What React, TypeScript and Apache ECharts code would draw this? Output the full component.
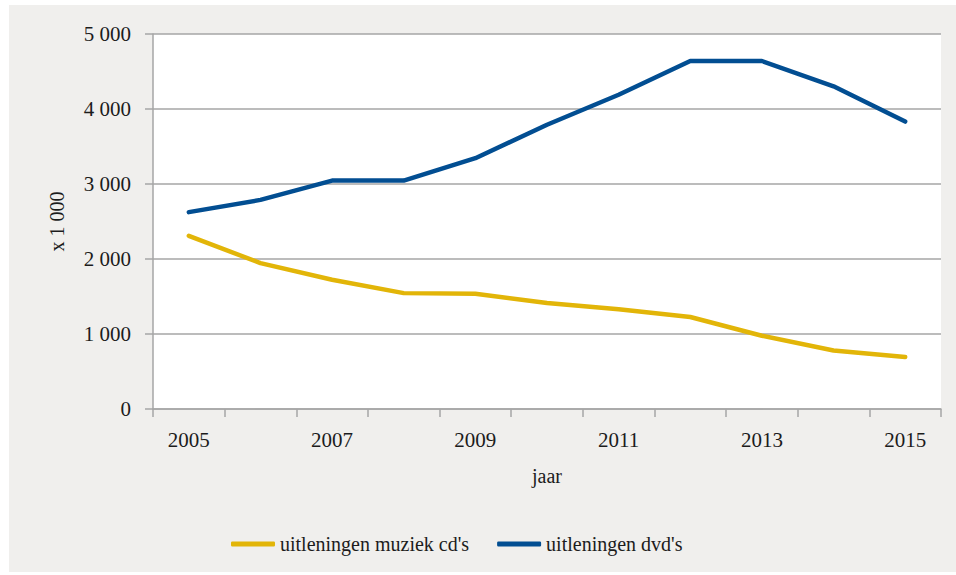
import React, { useEffect, useRef } from "react";
import * as echarts from "echarts";

const years = ["2005", "2006", "2007", "2008", "2009", "2010", "2011", "2012", "2013", "2014", "2015"];
const cdLoans = [2309, 1945, 1723, 1545, 1536, 1412, 1330, 1226, 977, 781, 693];
const dvdLoans = [2625, 2788, 3046, 3046, 3344, 3790, 4190, 4640, 4640, 4303, 3832];
const seriesNames = ["uitleningen muziek cd's", "uitleningen dvd's"];
const yTicks = { min: 0, max: 5000, interval: 1000 };

const FONT = "Liberation Serif";
const TEXT = "#1c1c1c";
const GRID_GRAY = "#a6a6a6";

function fmt(v: number): string {
  const s = String(Math.round(v));
  return s.replace(/\B(?=(\d{3})+(?!\d))/g, " ");
}

export default function App() {
  const ref = useRef<HTMLDivElement>(null);
  useEffect(() => {
    if (!ref.current) return;
    const chart = echarts.init(ref.current, undefined, { renderer: "svg" });
    chart.setOption({
      animation: false,
      backgroundColor: "#ffffff",
      graphic: [
        {
          type: "rect",
          z: -10,
          silent: true,
          shape: { x: 9, y: 5, width: 947, height: 567 },
          style: { fill: "#f0efed" },
        },
      ],
      grid: {
        left: 153,
        right: 15,
        top: 34,
        bottom: 166,
        show: true,
        backgroundColor: "#ffffff",
        borderWidth: 0,
      },
      legend: {
        data: seriesNames,
        left: 226,
        top: 529,
        icon: "roundRect",
        itemWidth: 44,
        itemHeight: 5,
        itemGap: 28,
        textStyle: { fontFamily: FONT, fontSize: 20, color: TEXT },
      },
      xAxis: {
        type: "category",
        data: years,
        boundaryGap: true,
        name: "jaar",
        nameLocation: "middle",
        nameGap: 57,
        nameTextStyle: { fontFamily: FONT, fontSize: 20, color: TEXT },
        axisLine: { show: true, lineStyle: { color: GRID_GRAY, width: 1.5 } },
        axisTick: { show: true, interval: 0, length: 8, lineStyle: { color: GRID_GRAY, width: 1.5 } },
        axisLabel: { interval: 1, margin: 20, fontFamily: FONT, fontSize: 21, color: TEXT },
        splitLine: { show: false },
      },
      yAxis: {
        type: "value",
        min: yTicks.min,
        max: yTicks.max,
        interval: yTicks.interval,
        name: "x 1 000",
        nameLocation: "middle",
        nameGap: 86,
        nameRotate: 90,
        nameTextStyle: { fontFamily: FONT, fontSize: 20, color: TEXT },
        axisLine: { show: true, lineStyle: { color: GRID_GRAY, width: 1.5 } },
        axisTick: { show: true, length: 8, lineStyle: { color: GRID_GRAY, width: 1.5 } },
        axisLabel: { margin: 22, fontFamily: FONT, fontSize: 21, color: TEXT, formatter: (v: number) => fmt(v) },
        splitLine: { show: true, lineStyle: { color: GRID_GRAY, width: 1.5 } },
      },
      series: [
        {
          name: seriesNames[0],
          type: "line",
          data: cdLoans,
          showSymbol: false,
          symbol: "none",
          lineStyle: { color: "#e2b508", width: 4.5, cap: "round", join: "round" },
          itemStyle: { color: "#e2b508" },
        },
        {
          name: seriesNames[1],
          type: "line",
          data: dvdLoans,
          showSymbol: false,
          symbol: "none",
          lineStyle: { color: "#024e92", width: 4.5, cap: "round", join: "round" },
          itemStyle: { color: "#024e92" },
        },
      ],
    });
    return () => chart.dispose();
  }, []);
  return (
    <div
      ref={ref}
      style={{ position: "absolute", left: 0, top: 0, width: 956, height: 575 }}
    />
  );
}
